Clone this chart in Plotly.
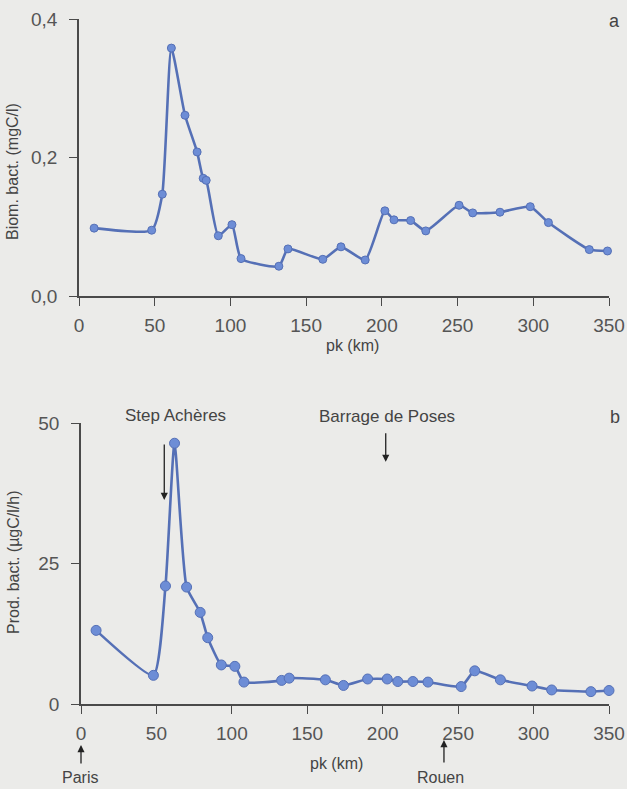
import plotly.graph_objects as go

# Seine longitudinal profile: bacterial biomass (a) and bacterial production (b)
pk_biomass = [10, 48, 55, 61, 70, 78, 82, 84, 92, 101, 107, 132, 138, 161, 173,
              189, 202, 208, 219, 229, 251, 260, 278, 298, 310, 337, 349]
biomass = [0.098, 0.095, 0.147, 0.358, 0.261, 0.208, 0.170, 0.167, 0.087, 0.103,
           0.054, 0.043, 0.068, 0.053, 0.071, 0.052, 0.123, 0.110, 0.109, 0.094,
           0.131, 0.120, 0.121, 0.129, 0.106, 0.067, 0.065]

pk_production = [10, 48, 56, 62, 70, 79, 84, 93, 102, 108, 133, 138, 162, 174,
                 190, 203, 210, 220, 230, 252, 261, 278, 299, 312, 338, 350]
production = [13.1, 5.1, 21.0, 46.4, 20.8, 16.3, 11.8, 6.95, 6.7, 3.9, 4.2, 4.6,
              4.3, 3.3, 4.45, 4.45, 4.0, 4.0, 3.9, 3.1, 5.9, 4.3, 3.2, 2.5, 2.2, 2.4]

x_ticks = [0, 50, 100, 150, 200, 250, 300, 350]
biomass_ticks = [0.0, 0.2, 0.4]
biomass_tick_text = ["0,0", "0,2", "0,4"]
production_ticks = [0, 25, 50]

W, H = 627, 789
BG = "#ebebe9"
AXIS = "#4a4a4a"
LINE = "#5570b6"
MARK = "#6d8dd6"
FONT = "Liberation Sans"


def px(x, y):
    """Pixel position -> paper coordinates."""
    return x / W, 1 - y / H


fig = go.Figure()

fig.add_trace(go.Scatter(
    x=pk_biomass, y=biomass, mode="lines+markers",
    line=dict(color=LINE, width=2.6, shape="spline", smoothing=0.5),
    marker=dict(color=MARK, size=8, line=dict(color=LINE, width=1)),
    cliponaxis=False, xaxis="x", yaxis="y", showlegend=False,
))
fig.add_trace(go.Scatter(
    x=pk_production, y=production, mode="lines+markers",
    line=dict(color=LINE, width=2.6, shape="spline", smoothing=0.5),
    marker=dict(color=MARK, size=10, line=dict(color=LINE, width=1)),
    cliponaxis=False, xaxis="x2", yaxis="y2", showlegend=False,
))

axis_common = dict(
    showgrid=False, zeroline=False, showline=True, linecolor=AXIS, linewidth=1.5,
    ticks="outside", ticklen=8, tickwidth=1.2, tickcolor=AXIS,
    ticklabeloverflow="allow", automargin=False,
    tickfont=dict(family=FONT, size=19, color="#555555"),
)
x_axis = dict(range=[0, 350], tickvals=x_ticks, ticklabelstandoff=3, **axis_common)
y_axis = dict(ticklabelstandoff=8, **axis_common)

# plot areas (right edge leaves room for the "350" tick label)
x0, y_top0 = px(79, 296)
x1, y_top1 = px(609, 19)
bx0, yb0 = px(81, 704)
bx1, yb1 = px(609, 423)

fig.update_layout(
    width=W, height=H, autosize=False,
    margin=dict(l=0, r=0, t=0, b=0, autoexpand=False),
    paper_bgcolor=BG, plot_bgcolor=BG,
    font=dict(family=FONT, color="#444444"),
    xaxis=dict(domain=[x0, x1], anchor="y", **x_axis),
    yaxis=dict(domain=[y_top0, y_top1], range=[0, 0.4], tickvals=biomass_ticks,
               ticktext=biomass_tick_text, anchor="x", **y_axis),
    xaxis2=dict(domain=[bx0, bx1], anchor="y2", **x_axis),
    yaxis2=dict(domain=[yb0, yb1], range=[0, 50], tickvals=production_ticks,
                anchor="x2", **y_axis),
)


def text(x, y, s, size=17, angle=0):
    px_, py_ = px(x, y)
    fig.add_annotation(x=px_, y=py_, xref="paper", yref="paper", text=s,
                       showarrow=False, textangle=angle,
                       font=dict(family=FONT, size=size, color="#444444"),
                       xanchor="center", yanchor="middle")


# axis titles and panel letters
text(12, 172, "Biom. bact. (mgC/l)", size=16, angle=-90)
text(352, 345, "pk (km)", size=16)
text(614, 21, "a", size=18)
text(13, 562, "Prod. bact. (µgC/l/h)", size=16, angle=-90)
text(336, 763, "pk (km)", size=16)
text(615, 417, "b", size=18)

# site labels
text(175, 415, "Step Achères", size=17)
text(387, 416, "Barrage de Poses", size=17)
text(80, 777, "Paris", size=16)
text(440, 777, "Rouen", size=16)

# arrows pointing down at the sites (head in data units of panel b)
down_arrows = [
    (55.2, 36.3, -57),   # Step Achères
    (202.0, 43.1, -30),  # Barrage de Poses
]
for ax_x, ax_y, dy in down_arrows:
    fig.add_annotation(x=ax_x, y=ax_y, xref="x2", yref="y2", ax=0, ay=dy,
                       text="", showarrow=True, arrowhead=2, arrowsize=1.1,
                       arrowwidth=1.3, arrowcolor="#222222")

# arrows below the axis pointing up at Paris and Rouen
up_arrows = [
    (0.0, 745, 20),      # Paris
    (240.6, 740, 24),    # Rouen
]
for ax_x, head_px, dy in up_arrows:
    fig.add_annotation(x=ax_x, y=px(0, head_px)[1], xref="x2", yref="paper",
                       ax=0, ay=dy, text="", showarrow=True, arrowhead=2,
                       arrowsize=1.1, arrowwidth=1.3, arrowcolor="#222222")

fig.write_html("out.html")
